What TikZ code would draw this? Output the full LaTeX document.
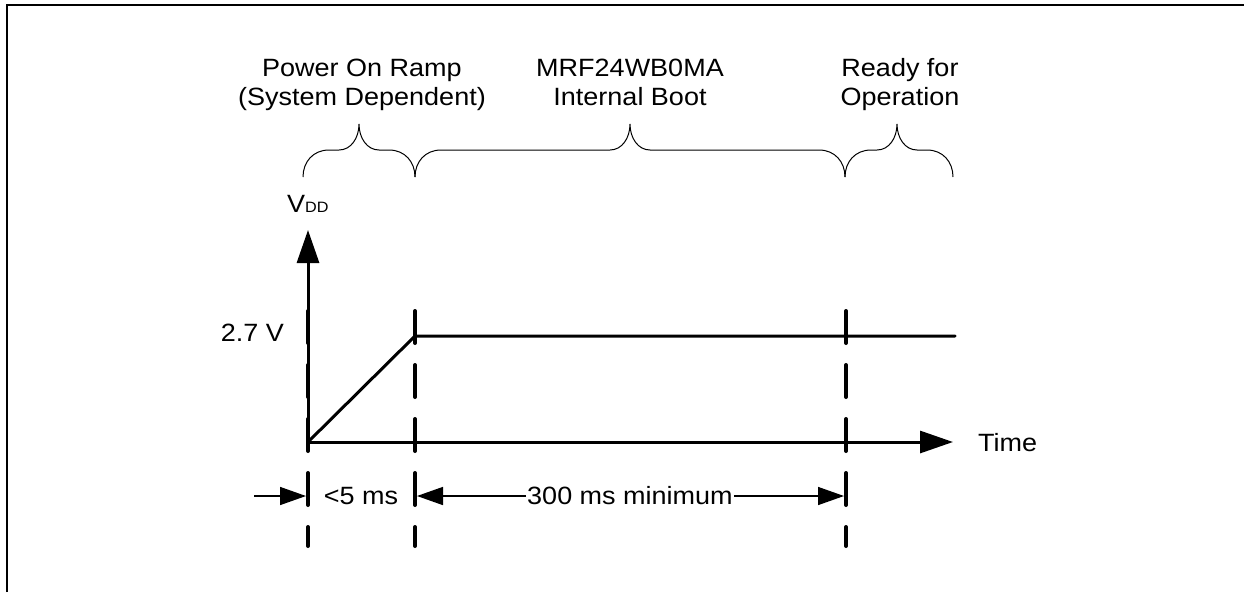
\documentclass[tikz,border=0pt]{standalone}
\usepackage{fontspec}
\setmainfont{Liberation Sans}[FakeStretch=1.08]
\usetikzlibrary{arrows.meta}
\begin{document}
\begin{tikzpicture}[x=1pt,y=-1pt,
  lbl/.style={inner sep=0pt, font=\fontsize{25}{29}\selectfont},
  axisline/.style={line width=3pt, -{Triangle[length=33pt,width=22pt]}},
  sigline/.style={line width=3pt, line cap=round},
  dashline/.style={line width=4pt, line cap=round, dash pattern=on 32pt off 22pt},
  dimline/.style={line width=1.5pt},
  dimarrow/.style={line width=1.5pt, -{Triangle[length=26pt,width=18pt]}},
  bracel/.style={line width=1pt}]
\useasboundingbox (0,0) rectangle (1244,592);
% frame
\draw[line width=2.5pt] (7,592) -- (7,5) -- (1244,5);
% coordinates
\coordinate (O) at (308,442);
\coordinate (ytip) at (308,230);
\coordinate (xtip) at (953,442);
\coordinate (R) at (415,336);
\coordinate (Rend) at (955,336);
% dashed markers
\foreach \n/\x in {a/308,b/415,c/846}{
  \coordinate (\n top) at (\x,311);
  \coordinate (\n bot) at (\x,546);
  \draw[dashline] (\n top) -- (\n bot);
}
% axes
\draw[axisline] (O) -- (ytip);
\draw[axisline] (O) -- (xtip);
% signal
\draw[sigline] (O) -- (R) -- (Rend);
% labels
\node[lbl, anchor=base west] (vdd) at (287,212) {V{\fontsize{15}{15}\selectfont DD}};
\node[lbl, anchor=east] (v27) at (284,333) {2.7 V};
\node[lbl, anchor=west] (time) at (978,443) {Time};
% dimensions
\coordinate (dl) at (254,496);
\coordinate (da) at (306,496);
\coordinate (db) at (417,496);
\coordinate (dc) at (844,496);
\node[lbl] (t5) at (361,496) {<5 ms};
\node[lbl, inner xsep=1pt] (t300) at (630,496) {300 ms minimum};
\draw[dimarrow] (dl) -- (da);
\draw[dimarrow] (t300.west) -- (db);
\draw[dimarrow] (t300.east) -- (dc);
% top labels
\node[lbl, align=center, anchor=base] (pwr) at (362,105) {Power On Ramp\\(System Dependent)};
\node[lbl, align=center, anchor=base] (boot) at (630,105) {MRF24WB0MA\\Internal Boot};
\node[lbl, align=center, anchor=base] (rdy) at (900,105) {Ready for\\Operation};
% braces
\newcommand{\mybrace}[3]{%
  \draw[bracel] (#1,177) .. controls (#1,162) and (#1+10,150) .. (#1+26,150)
    -- (#3-20,150) .. controls (#3-8,150) and (#3,138) .. (#3,124)
    .. controls (#3,138) and (#3+8,150) .. (#3+20,150)
    -- (#2-26,150) .. controls (#2-10,150) and (#2,162) .. (#2,177);}
\mybrace{303}{415}{359}
\mybrace{415}{845}{630}
\mybrace{845}{953}{897}
\end{tikzpicture}
\end{document}
